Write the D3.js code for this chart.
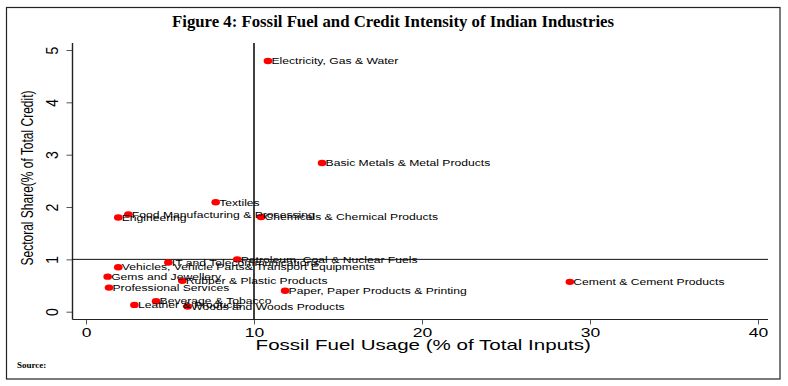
<!DOCTYPE html>
<html>
<head>
<meta charset="utf-8">
<script src="https://cdn.jsdelivr.net/npm/d3@7"></script>
<style>
  body { margin: 0; background: #fff; }
  svg { display: block; }
  text { font-family: "Liberation Sans", Arial, sans-serif; fill: #000; }
</style>
</head>
<body>
<div class="scatter"></div>
<script>
// Sector names and their values
var sectors = [
  "Electricity, Gas & Water",
  "Basic Metals & Metal Products",
  "Textiles",
  "Food Manufacturing & Processing",
  "Engineering",
  "Chemicals & Chemical Products",
  "Petroleum, Coal & Nuclear Fuels",
  "IT and Telecommunications",
  "Vehicles, Vehicle Parts& Transport Equipments",
  "Gems and Jewellery",
  "Rubber & Plastic Products",
  "Professional Services",
  "Paper, Paper Products & Printing",
  "Cement & Cement Products",
  "Beverage & Tobacco",
  "Leather & Products",
  "Woods and Woods Products"
];
// x: fossil fuel usage (% of total inputs)
var fossilFuel = [10.83, 14.05, 7.72, 2.52, 1.92, 10.42, 9.0, 4.9, 1.92, 1.29, 5.73, 1.37, 11.85, 28.8, 4.17, 2.88, 6.05];
// y: sectoral share (% of total credit)
var creditShare = [4.79, 2.84, 2.09, 1.86, 1.80, 1.81, 1.0, 0.94, 0.85, 0.67, 0.59, 0.46, 0.40, 0.57, 0.20, 0.13, 0.10];

var xTicks = [0, 10, 20, 30, 40];
var yTicks = [0, 1, 2, 3, 4, 5];
var refX = 10, refY = 1;

var svgWidth = 788;
var svgHeight = 386;

var svg = d3.select(".scatter")
  .append("svg")
  .attr("width", svgWidth)
  .attr("height", svgHeight);

// outer frame
svg.append("rect")
  .attr("x", 6.5).attr("y", 7.5)
  .attr("width", 773.5).attr("height", 371.5)
  .attr("fill", "none")
  .attr("stroke", "#222")
  .attr("stroke-width", 1.2);

svg.append("text")
  .attr("x", 393).attr("y", 27)
  .attr("text-anchor", "middle")
  .attr("textLength", 442)
  .attr("lengthAdjust", "spacingAndGlyphs")
  .style("font-family", "'Liberation Serif', 'DejaVu Serif', serif")
  .style("font-weight", "bold")
  .style("font-size", "16px")
  .text("Figure 4: Fossil Fuel and Credit Intensity of Indian Industries");

svg.append("text")
  .attr("x", 17).attr("y", 368)
  .style("font-family", "'Liberation Serif', serif")
  .style("font-weight", "bold")
  .style("font-size", "9px")
  .text("Source:");

// scales
var x = d3.scaleLinear().domain([0, 40]).range([86, 758]);
var y = d3.scaleLinear().domain([0, 5]).range([311.7, 50]);

var plotLeft = 72.5, plotRight = 768, plotTop = 43, plotBottom = 319.5;

var chartGroup = svg.append("g");

// axes
var bottomAxis = d3.axisBottom(x).tickValues(xTicks).tickSize(5).tickFormat(d3.format("d"));
var leftAxis = d3.axisLeft(y).tickValues(yTicks).tickSize(6).tickFormat(d3.format("d"));

var gx = chartGroup.append("g")
  .attr("transform", `translate(0, ${plotBottom})`)
  .call(bottomAxis);
gx.select(".domain").remove();
gx.selectAll(".tick line").attr("stroke", "#555");
gx.selectAll(".tick text")
  .style("font-size", "13.5px")
  .attr("font-family", null)
  .attr("y", null)
  .attr("dy", null)
  .attr("transform", "translate(0,17) scale(1.3,1)");

var gy = chartGroup.append("g")
  .attr("transform", `translate(${plotLeft}, 0)`)
  .call(leftAxis);
gy.select(".domain").remove();
gy.selectAll(".tick line").attr("stroke", "#555");
gy.selectAll(".tick text")
  .style("font-size", "14px")
  .attr("font-family", null)
  .attr("x", null).attr("dy", null)
  .attr("text-anchor", "middle")
  .attr("transform", "translate(-19.5,0) rotate(-90) scale(1,1.15) translate(0,4.5)");

// axis lines
chartGroup.append("line")
  .attr("x1", plotLeft).attr("x2", plotRight)
  .attr("y1", plotBottom).attr("y2", plotBottom)
  .attr("stroke", "#222").attr("stroke-width", 1);
chartGroup.append("line")
  .attr("x1", plotLeft).attr("x2", plotLeft)
  .attr("y1", plotTop).attr("y2", plotBottom)
  .attr("stroke", "#222").attr("stroke-width", 1.4);

// reference lines
chartGroup.append("line")
  .attr("x1", plotLeft).attr("x2", plotRight)
  .attr("y1", y(refY)).attr("y2", y(refY))
  .attr("stroke", "#111").attr("stroke-width", 1);
chartGroup.append("line")
  .attr("x1", x(refX)).attr("x2", x(refX))
  .attr("y1", plotTop).attr("y2", plotBottom)
  .attr("stroke", "#111").attr("stroke-width", 1.6);

// axis titles
chartGroup.append("text")
  .attr("transform", `translate(${(plotLeft + plotRight) / 2 + 3}, 350) scale(1.37,1)`)
  .attr("text-anchor", "middle")
  .style("font-size", "15px")
  .text("Fossil Fuel Usage (% of Total Inputs)");

chartGroup.append("text")
  .attr("transform", "translate(33, 178) rotate(-90) scale(1,1.4)")
  .attr("text-anchor", "middle")
  .style("font-size", "12px")
  .text("Sectoral Share(% of Total Credit)");

// points
var data = sectors.map(function(s, i) {
  return { name: s, fuel: fossilFuel[i], credit: creditShare[i] };
});

chartGroup.selectAll("ellipse")
  .data(data)
  .enter()
  .append("ellipse")
  .attr("cx", d => x(d.fuel))
  .attr("cy", d => y(d.credit))
  .attr("rx", 4.3)
  .attr("ry", 3.2)
  .attr("fill", "#f00");

chartGroup.selectAll(".lbl")
  .data(data)
  .enter()
  .append("text")
  .attr("class", "lbl")
  .attr("transform", d => `translate(${x(d.fuel) + 3.5}, ${y(d.credit) + 3.2}) scale(1.35,1)`)
  .style("font-size", "9px")
  .text(d => d.name);
</script>
</body>
</html>
